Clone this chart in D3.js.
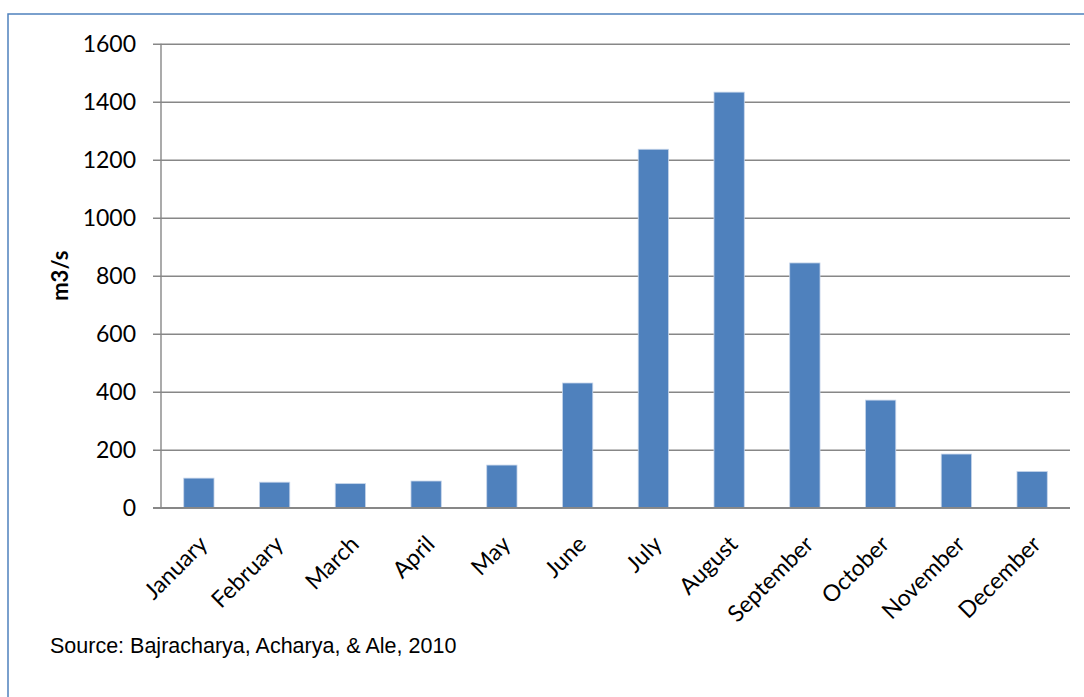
<!DOCTYPE html>
<html><head><meta charset="utf-8">
<script src="https://cdn.jsdelivr.net/npm/d3@7"></script>
<style>body{margin:0;background:#fff;}svg{display:block;}</style>
</head><body>
<svg id="c" width="1084" height="697"></svg>
<script>
const months = ["January","February","March","April","May","June","July","August","September","October","November","December"];
const flow = [102, 88, 83, 92, 147, 430, 1236, 1433, 844, 371, 185, 125];
const yTicks = [0, 200, 400, 600, 800, 1000, 1200, 1400, 1600];
const yTitle = "m3/s";
const source = "Source: Bajracharya, Acharya, & Ale, 2010";

const svg = d3.select("#c");
const m = {left:161, right:1070, top:43.7, bottom:507.7};
const labelFont = "Lato, 'Open Sans', sans-serif";

svg.append("rect").attr("x",8).attr("y",14).attr("width",1200).attr("height",800)
  .attr("fill","#fff").attr("stroke","#4F81BD").attr("stroke-width",1.5);

const x = d3.scaleBand().domain(months).range([m.left, m.right]).paddingInner(0.6).paddingOuter(0.3);
const y = d3.scaleLinear().domain([0,1600]).range([m.bottom, m.top]);

const yAxis = d3.axisLeft(y).tickValues(yTicks).tickFormat(d3.format("d"))
  .tickSize(-(m.right - m.left)).tickPadding(25);
const gy = svg.append("g").attr("transform",`translate(${m.left},0)`).call(yAxis);
gy.select(".domain").remove();
gy.selectAll(".tick line").attr("stroke","#878787").attr("stroke-width",1.4).attr("x1",-8);
gy.selectAll(".tick text").attr("font-family",labelFont).attr("font-size",23).attr("fill","#000");

svg.append("line").attr("x1",m.left).attr("x2",m.left).attr("y1",m.top).attr("y2",m.bottom)
  .attr("stroke","#878787").attr("stroke-width",1.4);

svg.append("g").selectAll("rect").data(months).join("rect")
  .attr("x", d => x(d)).attr("width", x.bandwidth())
  .attr("y", (d,i) => y(flow[i])).attr("height", (d,i) => y(0) - y(flow[i]))
  .attr("fill","#4F81BD").attr("stroke","#C6D5EA").attr("stroke-width",0.8);

svg.append("line").attr("x1",m.left-8).attr("x2",m.right).attr("y1",m.bottom).attr("y2",m.bottom)
  .attr("stroke","#878787").attr("stroke-width",1.4);

const xAxis = d3.axisBottom(x).tickSize(0).tickPadding(0);
const gx = svg.append("g").attr("transform",`translate(0,${m.bottom})`).call(xAxis);
gx.select(".domain").remove();
gx.selectAll(".tick text")
  .attr("font-family",labelFont).attr("font-size",23).attr("fill","#000")
  .attr("text-anchor","end").attr("dy",null).attr("y",null)
  .attr("transform","translate(10,38) rotate(-45)");

svg.append("text").attr("transform",`translate(68,${(m.top+m.bottom)/2}) rotate(-90)`)
  .attr("text-anchor","middle").attr("font-family",labelFont).attr("font-weight","bold")
  .attr("font-size",22).text(yTitle);

svg.append("text").attr("x",50).attr("y",653).attr("font-family","'Liberation Sans', Arial, sans-serif")
  .attr("font-size",21.5).attr("fill","#000").text(source);
</script>
</body></html>
